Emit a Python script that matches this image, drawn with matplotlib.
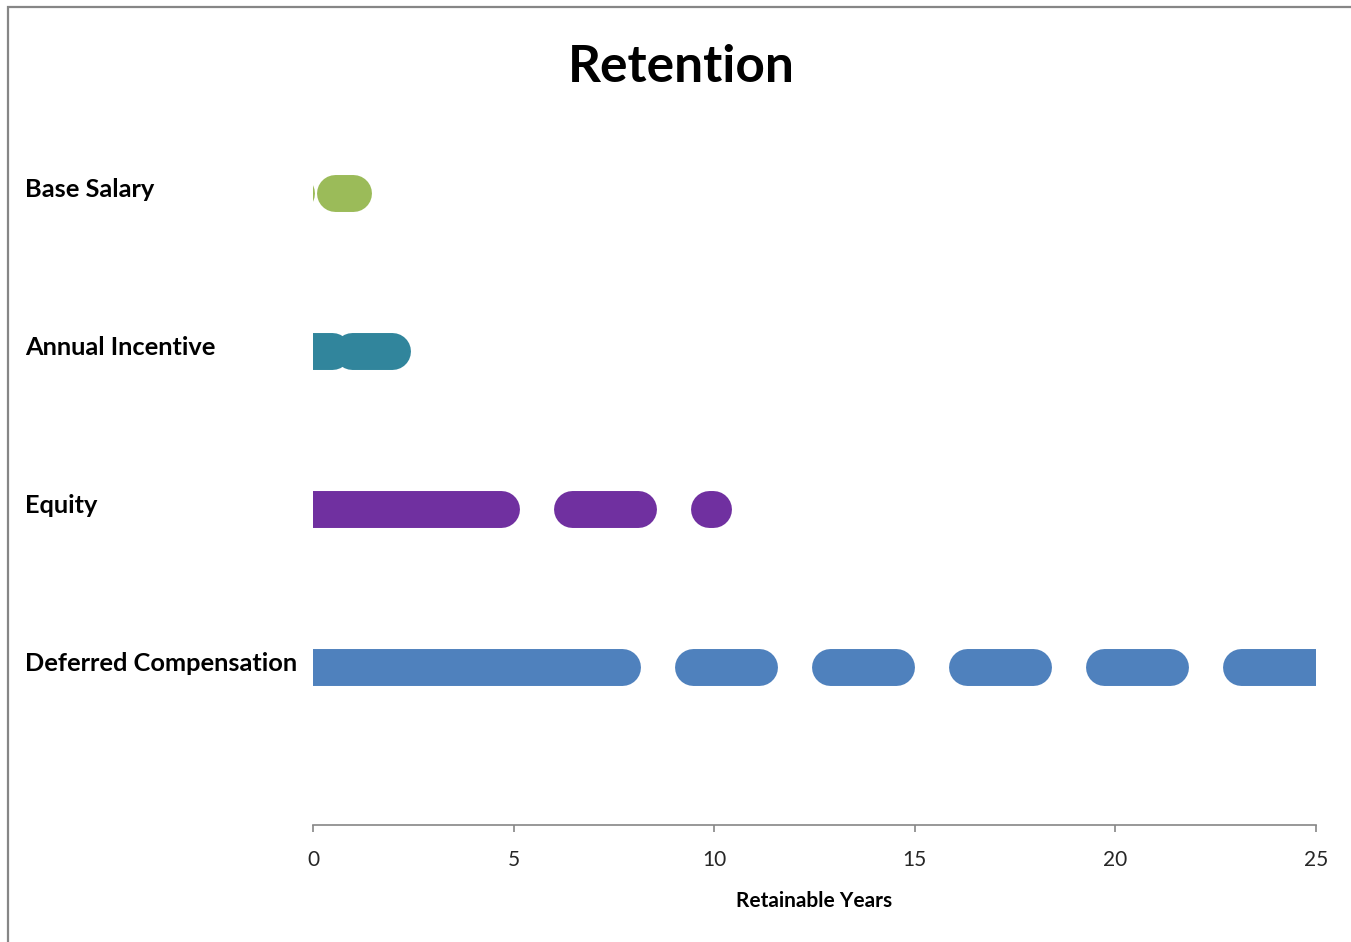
import matplotlib
matplotlib.use('Agg')
import matplotlib.pyplot as plt
from matplotlib.patches import Rectangle
from matplotlib.transforms import blended_transform_factory

FONT = ['Lato', 'DejaVu Sans']

categories = ['Base Salary', 'Annual Incentive', 'Equity', 'Deferred Compensation']
positions = [4, 3, 2, 1]
colors = ['#9BBB59', '#31859C', '#7030A0', '#4F81BD']

# dash segments (start, end) in years, centre line of each rounded dash
base_salary = [(-1.0, -0.42), (0.55, 1.0)]
annual_incentive = [(-1.0, 0.47), (0.97, 1.97)]
equity = [(-1.0, 4.69), (6.46, 8.10), (9.87, 9.97)]
deferred_comp = [(-1.0, 7.70), (9.47, 11.12), (12.89, 14.53),
                 (16.30, 17.95), (19.72, 21.36), (23.13, 25.5)]
segments = [base_salary, annual_incentive, equity, deferred_comp]

x_ticks = [0, 5, 10, 15, 20, 25]

fig = plt.figure(figsize=(13.51, 9.42), dpi=100)
fig.patch.set_facecolor('white')

# chart frame
fig.patches.append(Rectangle((8 / 1351, -0.2), 1.5, 1.2 - 7 / 942,
                             transform=fig.transFigure, fill=False,
                             edgecolor='#868686', linewidth=1.6))

ax = fig.add_axes([313 / 1351, 117 / 942, 1003 / 1351, 743 / 942])
ax.set_xlim(0, 25)
ax.set_ylim(0, 4.7)

for segs, y, c in zip(segments, positions, colors):
    for x0, x1 in segs:
        ax.plot([x0, x1], [y, y], color=c, linewidth=26.6,
                solid_capstyle='round', zorder=3)

for s in ['left', 'right', 'top']:
    ax.spines[s].set_visible(False)
ax.spines['bottom'].set_color('#868686')
ax.spines['bottom'].set_linewidth(1.2)
ax.set_yticks([])
ax.set_xticks(x_ticks)
ax.set_xticklabels([str(t) for t in x_ticks], family=FONT, fontsize=15,
                   color='#262626')
ax.tick_params(axis='x', direction='out', length=5, width=1.2,
               color='#868686', pad=13)
ax.set_xlabel('Retainable Years', family=FONT, fontsize=15,
              fontweight='bold', labelpad=15)

trans = blended_transform_factory(fig.transFigure, ax.transData)
for name, y in zip(categories, positions):
    ax.text(25 / 1351, y + 0.02, name, transform=trans, ha='left',
            va='center', family=FONT, fontsize=18.3, fontweight='bold',
            color='black')

fig.text(681 / 1351, 1 - 67 / 942, 'Retention', ha='center', va='center',
         family=FONT, fontsize=37, fontweight='bold', color='black')

fig.savefig('out.png', dpi=100)
